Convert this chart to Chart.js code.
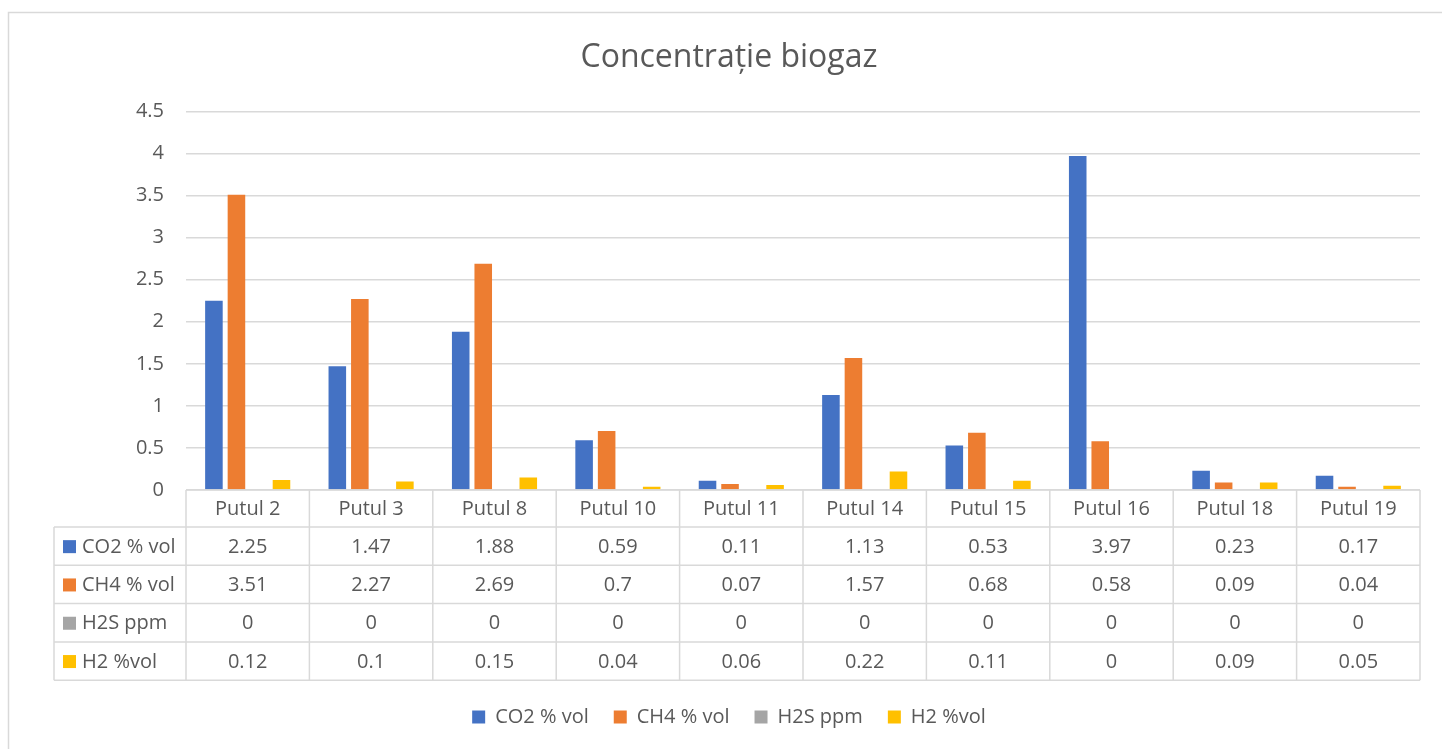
<!DOCTYPE html>
<html>
<head>
<meta charset="utf-8">
<title>Concentrație biogaz</title>
<script src="https://cdn.jsdelivr.net/npm/chart.js@4"></script>
<style>
	html, body { margin: 0; padding: 0; background: #ffffff; }
	#chart_box { width: 1442px; height: 749px; }
</style>
</head>
<body>
<div id="chart_box"><canvas id="graphic-canvas"></canvas></div>
<script>
const categories = ["Putul 2", "Putul 3", "Putul 8", "Putul 10", "Putul 11", "Putul 14", "Putul 15", "Putul 16", "Putul 18", "Putul 19"];
const co2_values = [2.25, 1.47, 1.88, 0.59, 0.11, 1.13, 0.53, 3.97, 0.23, 0.17];
const ch4_values = [3.51, 2.27, 2.69, 0.7, 0.07, 1.57, 0.68, 0.58, 0.09, 0.04];
const h2s_values = [0, 0, 0, 0, 0, 0, 0, 0, 0, 0];
const h2_values = [0.12, 0.1, 0.15, 0.04, 0.06, 0.22, 0.11, 0, 0.09, 0.05];
const series_labels = ["CO2 % vol", "CH4 % vol", "H2S ppm", "H2 %vol"];
const series_colors = ["#4472C4", "#ED7D31", "#A5A5A5", "#FFC000"];

const text_color = "#595959";
const line_color = "#d9d9d9";
const font_family = "'Open Sans', 'Noto Sans', sans-serif";

// outer frame of the chart object
const frame_plugin = {
	id: "frame",
	beforeDraw (chart) {
		let ctx = chart.ctx;
		ctx.save();
		ctx.fillStyle = "#ffffff";
		ctx.fillRect(0, 0, chart.width, chart.height);
		ctx.strokeStyle = line_color;
		ctx.lineWidth = 1.5;
		ctx.strokeRect(8.5, 12.5, 1440, 745);
		ctx.restore();
	}
};

// excel style data table under the plot
const table_plugin = {
	id: "data_table",
	afterDraw (chart) {
		let ctx = chart.ctx;
		let area = chart.chartArea;
		let x = chart.scales.x;
		let n = categories.length;
		let col_w = (area.right - area.left) / n;
		let head_h = 37;
		let row_h = 38.3;
		let label_left = 54;
		let top = area.bottom;
		let rows = chart.data.datasets.length;
		let bottom = top + head_h + rows * row_h;

		ctx.save();
		ctx.strokeStyle = line_color;
		ctx.lineWidth = 1.5;
		ctx.beginPath();
		// horizontal lines
		ctx.moveTo(area.left, top);
		ctx.lineTo(area.right, top);
		for (let r = 0; r <= rows; r++) {
			let y = top + head_h + r * row_h;
			ctx.moveTo(label_left, y);
			ctx.lineTo(area.right, y);
		}
		// vertical lines
		ctx.moveTo(label_left, top + head_h);
		ctx.lineTo(label_left, bottom);
		for (let i = 0; i <= n; i++) {
			let px = area.left + i * col_w;
			ctx.moveTo(px, top);
			ctx.lineTo(px, bottom);
		}
		ctx.stroke();

		ctx.fillStyle = text_color;
		ctx.font = "20px " + font_family;
		ctx.textBaseline = "middle";
		ctx.textAlign = "center";
		categories.forEach((cat, i) => {
			ctx.fillText(cat, x.getPixelForTick(i), top + head_h / 2 + 1);
		});
		chart.data.datasets.forEach((dataset, r) => {
			let y = top + head_h + r * row_h + row_h / 2 + 1;
			ctx.fillStyle = dataset.backgroundColor;
			ctx.fillRect(63, y - 7, 13, 13);
			ctx.fillStyle = text_color;
			ctx.textAlign = "left";
			ctx.fillText(dataset.label, 82, y);
			ctx.textAlign = "center";
			dataset.data.forEach((v, i) => {
				ctx.fillText(String(v), x.getPixelForTick(i), y);
			});
		});
		ctx.restore();
	}
};

function make_dataset (index, values) {
	return {
		label: series_labels[index],
		data: values,
		backgroundColor: series_colors[index],
		borderWidth: 0,
		categoryPercentage: 0.73,
		barPercentage: 0.78
	};
}

const config = {
	type: "bar",
	data: {
		labels: categories,
		datasets: [
			make_dataset(0, co2_values),
			make_dataset(1, ch4_values),
			make_dataset(2, h2s_values),
			make_dataset(3, h2_values)
		]
	},
	options: {
		responsive: false,
		animation: false,
		layout: {
			padding: { top: 12, right: 22, bottom: 12, left: 38 }
		},
		scales: {
			x: {
				ticks: { display: false },
				grid: { display: false },
				border: { display: false },
				afterFit: scale => {
					scale.height = 192;
				}
			},
			y: {
				min: 0,
				max: 4.5,
				ticks: {
					stepSize: 0.5,
					padding: 22,
					color: text_color,
					font: { family: font_family, size: 20 },
					callback: value => String(value)
				},
				grid: { color: line_color, lineWidth: 1.5, drawTicks: false },
				border: { display: false },
				afterFit: scale => {
					scale.width = 148;
				}
			}
		},
		plugins: {
			title: {
				display: true,
				text: "Concentrație biogaz",
				color: text_color,
				font: { family: font_family, size: 32, weight: "normal" },
				padding: { top: 27, bottom: 34 }
			},
			legend: {
				position: "bottom",
				labels: {
					boxWidth: 13,
					boxHeight: 13,
					padding: 25,
					color: text_color,
					font: { family: font_family, size: 20 }
				}
			},
			tooltip: { enabled: false }
		}
	},
	plugins: [frame_plugin, table_plugin]
};

let canvas = document.getElementById("graphic-canvas");
canvas.width = 1442;
canvas.height = 749;
let chart = new Chart(canvas, config);
</script>
</body>
</html>
